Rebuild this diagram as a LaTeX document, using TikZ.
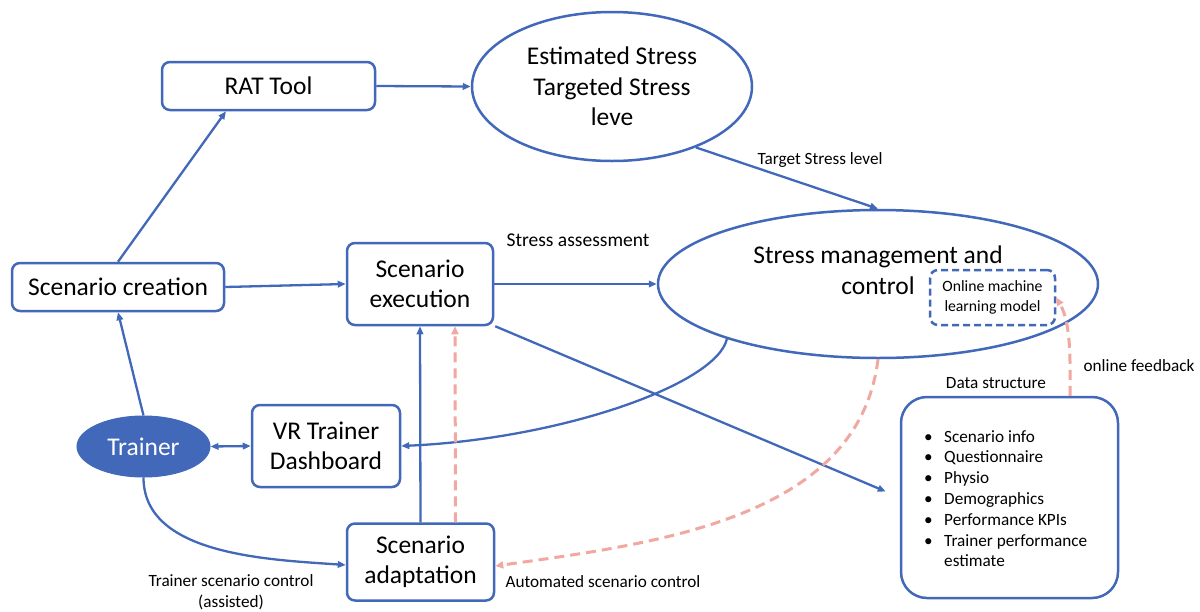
\documentclass[tikz,border=0pt]{standalone}
\usepackage{fontspec}
\setmainfont{Carlito}
\usetikzlibrary{arrows.meta,shapes.geometric,calc}
\definecolor{myblue}{RGB}{66,104,186}
\definecolor{mypink}{RGB}{240,168,160}
\begin{document}
\begin{tikzpicture}[x=1pt,y=-1pt,
  bigtext/.style={font=\fontsize{25.5}{30.5}\selectfont},
  box/.style={draw=myblue,line width=2.5pt,rounded corners=8pt,align=center,inner sep=0pt,bigtext},
  oval/.style={ellipse,draw=myblue,line width=2.5pt,align=center,inner sep=0pt,bigtext},
  arr/.style={draw=myblue,line width=2.3pt,-{Triangle[length=8pt,width=6.5pt]}},
  darr/.style={draw=myblue,line width=2.3pt,{Triangle[length=8pt,width=6.5pt]}-{Triangle[length=8pt,width=6.5pt]}},
  pinkarr/.style={draw=mypink,line width=3pt,dash pattern=on 10pt off 6pt,-{Triangle[length=8pt,width=7pt]}},
  lbl/.style={font=\fontsize{17.2}{21}\selectfont,inner sep=0pt,align=center},
]
\useasboundingbox (0,0) rectangle (1200,611);
\fill[white] (0,0) rectangle (1200,611);

% nodes
\node[box,minimum width=213pt,minimum height=48pt] (rat) at (268.5,86) {RAT Tool};
\node[oval,minimum width=280pt,minimum height=149pt] (est) at (612,86.5) {Estimated Stress\\Targeted Stress\\leve};
\node[oval,minimum width=440pt,minimum height=148pt] (smc) at (878,284) {};
\node[inner sep=0pt,align=center,bigtext] (smctext) at (878,270) {Stress management and\\control};
\node[draw=myblue,line width=2.5pt,dash pattern=on 7pt off 4pt,rounded corners=8pt,minimum width=125pt,minimum height=55pt,inner sep=0pt,align=center,font=\fontsize{15.7}{20}\selectfont] (oml) at (992.5,297.5) {Online machine\\learning model};
\node[draw=myblue,line width=2.5pt,rounded corners=26pt,minimum width=217pt,minimum height=201pt] (ds) at (1009.5,497.5) {};
\node[anchor=base west,inner sep=0pt,font=\fontsize{17.2}{20.8}\selectfont] (dslist) at (923,442) {\parbox[t]{185pt}{%
\makebox[21pt][l]{\hspace{1pt}\textbullet}Scenario info\\
\makebox[21pt][l]{\hspace{1pt}\textbullet}Questionnaire\\
\makebox[21pt][l]{\hspace{1pt}\textbullet}Physio\\
\makebox[21pt][l]{\hspace{1pt}\textbullet}Demographics\\
\makebox[21pt][l]{\hspace{1pt}\textbullet}Performance KPIs\\
\makebox[21pt][l]{\hspace{1pt}\textbullet}Trainer performance\\
\hspace*{21pt}estimate}};
\node[box,minimum width=212pt,minimum height=48pt] (sc) at (118,287) {Scenario creation};
\node[box,minimum width=146pt,minimum height=82pt] (se) at (420,284) {Scenario\\execution};
\node[ellipse,fill=myblue,draw=myblue,line width=1pt,minimum width=133pt,minimum height=61pt,inner sep=0pt,text=white,bigtext] (tr) at (143.5,446.5) {Trainer};
\node[box,minimum width=148pt,minimum height=82pt] (vr) at (326,446) {VR Trainer\\Dashboard};
\node[box,minimum width=147pt,minimum height=77pt] (sa) at (420.5,562) {Scenario\\adaptation};

% labels
\node[lbl] (l1) at (820,160) {Target Stress level};
\node[lbl,font=\fontsize{19.5}{23}\selectfont] (l2) at (578,240) {Stress assessment};
\node[lbl] (l3) at (996,383) {Data structure};
\node[lbl] (l4) at (1139,366) {online feedback};
\node[lbl] (l5) at (603,582) {Automated scenario control};
\node[lbl] (l6) at (231,592) {Trainer scenario control\\(assisted)};

% connectors
\draw[arr] (sc.north) -- ([xshift=-42.5pt]rat.south);
\draw[arr] (rat.east) -- (est.west);
\draw[arr] (est.-36) -- (smc.north);
\draw[arr] (sc.east) -- (se.west);
\draw[arr] (se.east) -- (smc.west);
\draw[arr] (tr.north) -- (sc.south);
\draw[darr] (tr.east) -- (vr.west);
\draw[arr] (smc.200) .. controls +(-11,46) and +(158,-7) .. (vr.east);
\draw[arr] (sa.north) -- (se.south);
\draw[pinkarr] ([xshift=35pt]sa.north) -- ([xshift=35pt]se.south);
\draw[arr] ([xshift=1pt]se.south east) -- ([shift={(-14pt,6pt)}]ds.west);
\draw[pinkarr] (smc.south) to[out=-97,in=8,looseness=0.95] ([yshift=-4pt]sa.east);
\draw[arr] (tr.south) to[out=-90,in=176,looseness=0.9] ([yshift=-3pt]sa.west);
\draw[pinkarr] ([xshift=60.5pt]ds.north) to[out=90,in=-60,looseness=0.8] (oml.east);
\end{tikzpicture}
\end{document}
